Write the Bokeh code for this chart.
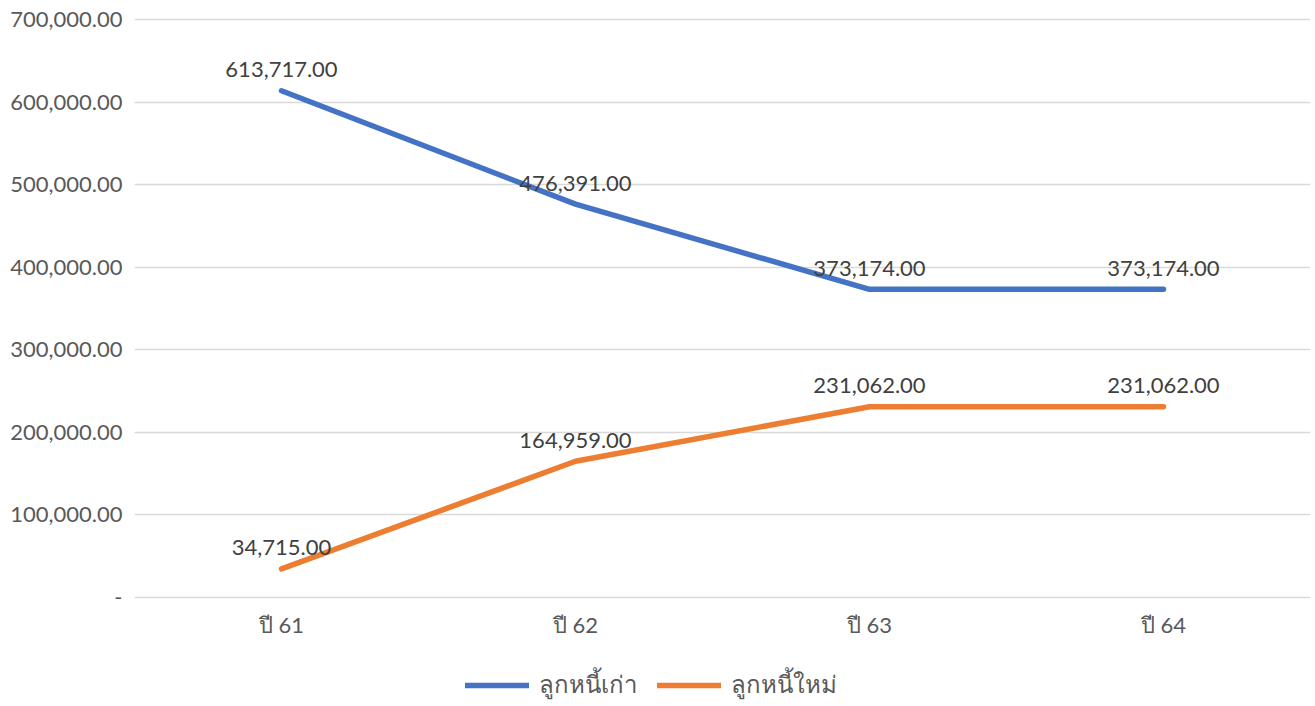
from bokeh.plotting import figure
from bokeh.models import (ColumnDataSource, Range1d, FactorRange, CustomJSTickFormatter,
                          LabelSet, Legend, LegendItem, FixedTicker)
from bokeh.layouts import column
from bokeh.core.properties import value
from bokeh.embed import file_html
from bokeh.resources import INLINE

categories = ["ปี 61", "ปี 62", "ปี 63", "ปี 64"]
old_debt = [613717.00, 476391.00, 373174.00, 373174.00]
new_debt = [34715.00, 164959.00, 231062.00, 231062.00]
series_names = ["ลูกหนี้เก่า", "ลูกหนี้ใหม่"]
y_ticks = [0, 100000, 200000, 300000, 400000, 500000, 600000, 700000]

FONT = "Lato"
FS = "22px"
COLORS = ["#4472C4", "#ED7D31"]
LW = 5.5
W = 1312

def fmt(v):
    return f"{v:,.2f}"

src_old = ColumnDataSource(dict(x=categories, y=old_debt, lbl=[fmt(v) for v in old_debt]))
src_new = ColumnDataSource(dict(x=categories, y=new_debt, lbl=[fmt(v) for v in new_debt]))

# small padding on the value range so the 0 and top gridlines are not clipped
pad = 700000 * 3 / 578
p = figure(width=W, height=643, x_range=FactorRange(*categories, range_padding=0),
           y_range=Range1d(-pad, 700000 + pad), output_backend="svg", toolbar_location=None,
           min_border_left=134, min_border_right=2, min_border_top=16, min_border_bottom=43)
p.outline_line_color = None
p.background_fill_color = "white"

r1 = p.line("x", "y", source=src_old, line_color=COLORS[0], line_width=LW, line_cap="round")
r2 = p.line("x", "y", source=src_new, line_color=COLORS[1], line_width=LW, line_cap="round")

for src in (src_old, src_new):
    p.add_layout(LabelSet(x="x", y="y", text="lbl", source=src, y_offset=21,
                          text_align="center", text_baseline="middle",
                          text_font=value(FONT), text_font_size=value(FS), text_color="#404040"))

p.yaxis.ticker = FixedTicker(ticks=y_ticks)
p.yaxis.formatter = CustomJSTickFormatter(code="""
if (tick == 0) { return '-'; }
return tick.toLocaleString('en-US', {minimumFractionDigits: 2, maximumFractionDigits: 2});
""")
for ax in (p.xaxis, p.yaxis):
    ax.axis_line_color = None
    ax.major_tick_line_color = None
    ax.minor_tick_line_color = None
    ax.major_tick_in = 0
    ax.major_tick_out = 0
    ax.major_label_text_font = FONT
    ax.major_label_text_font_size = FS
    ax.major_label_text_color = "#595959"
p.yaxis.major_label_standoff = 12
p.xaxis.major_label_standoff = 10
p.xgrid.grid_line_color = None
p.ygrid.grid_line_color = "#D9D9D9"
p.ygrid.grid_line_width = 1.5

# legend strip below the chart: proxy renderers for the legend keys, drawn
# with the same styles as the series (their data lie outside the strip's view)
lf = figure(width=W, height=61, x_range=Range1d(0, 1), y_range=Range1d(0, 1),
            x_axis_location=None, y_axis_location=None,
            output_backend="svg", toolbar_location=None,
            min_border_left=0, min_border_right=0, min_border_top=0, min_border_bottom=0)
lf.grid.visible = False
lf.outline_line_color = None
proxy = ColumnDataSource(dict(x=[5, 6], y=[5, 6]))
l1 = lf.line("x", "y", source=proxy, line_color=COLORS[0], line_width=LW, line_cap="round")
l2 = lf.line("x", "y", source=proxy, line_color=COLORS[1], line_width=LW, line_cap="round")
legend = Legend(items=[LegendItem(label=series_names[0], renderers=[l1]),
                       LegendItem(label=series_names[1], renderers=[l2])],
                orientation="horizontal", location=(331, 0),
                label_text_font=FONT, label_text_font_size="24px", label_text_color="#595959",
                glyph_width=64, glyph_height=20, spacing=20, label_standoff=10,
                border_line_color=None, background_fill_alpha=0, padding=0, margin=0)
lf.add_layout(legend, "center")

open("out.html", "w").write(file_html(column(p, lf, spacing=0), INLINE))
